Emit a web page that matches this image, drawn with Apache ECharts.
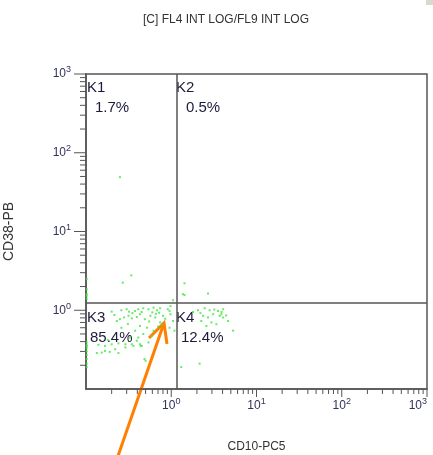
<!DOCTYPE html>
<html>
<head>
<meta charset="utf-8">
<script src="https://cdn.jsdelivr.net/npm/echarts@6/dist/echarts.min.js"></script>
<style>
  html, body { margin: 0; padding: 0; background: #fff; }
  #chart { width: 433px; height: 455px; }
</style>
</head>
<body>
<div id="chart"></div>
<script>
// Events: CD10 (x) and CD38 (y) intensities, paired by index
const cd10 = [
  0.26, 0.30, 0.32, 0.377, 0.41, 0.47, 0.54, 0.62, 0.68, 0.74,
  0.23, 0.25, 0.28, 0.315, 0.345, 0.395, 0.43, 0.49, 0.57, 0.65,
  0.74, 0.43, 0.377, 0.47, 0.52, 0.41, 0.395, 0.345, 0.29, 0.24,
  0.20, 0.167, 0.14, 0.45, 0.54, 0.59, 0.78, 0.134, 0.153, 0.167,
  0.19, 0.22, 0.24, 0.29, 0.36, 0.43, 0.50, 0.485, 0.44, 0.91,
  0.98, 1.05, 0.955, 1.09, 0.98, 0.955, 2.06, 2.47, 2.82, 3.1,
  3.54, 4.06, 2.36, 2.70, 3.70, 4.06, 2.25, 2.96, 3.38, 2.58,
  3.87, 4.64, 5.32, 1.31, 2.15, 1.05, 1.43, 1.37, 2.70, 1.43,
  0.27, 0.34, 0.25,
  0.102, 0.102, 0.102, 0.102, 0.102, 0.102, 0.102, 0.102, 0.102, 0.102,
  0.102, 0.102, 0.102, 0.102,
  0.20, 0.215, 0.35, 0.45, 0.60, 0.66, 0.72, 0.31, 0.26, 0.55,
  0.62, 0.70, 0.80, 0.85, 0.33, 0.18, 1.8, 3.2, 2.2, 3.9, 4.4
];
const cd38 = [
  1.0, 1.03, 0.96, 0.98, 1.03, 1.06, 1.03, 1.08, 1.0, 1.06,
  0.73, 0.77, 0.81, 0.85, 0.79, 0.82, 0.89, 0.77, 0.85, 0.81,
  0.70, 0.63, 0.55, 0.50, 0.60, 0.45, 0.41, 0.37, 0.37, 0.38,
  0.37, 0.353, 0.364, 0.353, 0.39, 0.47, 0.665, 0.286, 0.29, 0.305,
  0.296, 0.32, 0.286, 0.337, 0.353, 0.37, 0.228, 0.24, 0.353, 1.03,
  0.89, 0.73, 0.60, 0.55, 1.13, 0.98, 1.0, 1.06, 1.0, 0.89,
  0.98, 1.03, 0.85, 0.81, 0.85, 0.81, 0.73, 0.70, 0.665, 0.63,
  0.89, 0.73, 0.55, 0.19, 0.21, 1.34, 1.56, 1.60, 1.63, 2.20,
  2.24, 2.77, 49,
  1.6, 1.52, 1.4, 2.5, 1.85, 0.39, 0.36, 0.33, 0.30, 0.27,
  0.24, 0.21, 0.19, 0.35,
  0.96, 0.87, 0.92, 0.95, 0.94, 0.90, 0.93, 0.67, 0.60, 0.72,
  0.55, 0.62, 0.85, 0.78, 0.45, 0.42, 0.95, 1.02, 0.92, 0.95, 0.86
];

// Quadrant gates
const cd10Gate = 1.17;
const cd38Gate = 1.25;

// Quadrant names and their event percentages
const quadNames = ['K1', 'K2', 'K3', 'K4'];
const quadPct = ['1.7%', '0.5%', '85.4%', '12.4%'];

// Axis range and tick positions (log decades)
const axisMin = 0.1, axisMax = 1000;
const majorTicks = [1, 10, 100, 1000];
const minorTicks = [
  0.2, 0.3, 0.4, 0.5, 0.6, 0.7, 0.8, 0.9,
  2, 3, 4, 5, 6, 7, 8, 9,
  20, 30, 40, 50, 60, 70, 80, 90,
  200, 300, 400, 500, 600, 700, 800, 900
];

const events = cd10.map((v, i) => [v, cd38[i]]);
const tickColor = '#555';
const labelColor = '#33335a';
const font = 'Liberation Sans, Arial';

function supLabel(v) {
  const e = Math.round(Math.log10(v));
  return '{b|10}{s|' + e + '}';
}
const richSup = {
  b: { fontSize: 12, color: labelColor, fontFamily: font },
  s: { fontSize: 9, color: labelColor, fontFamily: font, padding: [0, 0, 8, 0] }
};

function tickSeries(values, isX, len) {
  return {
    type: 'custom',
    silent: true,
    clip: false,
    data: values.map(v => isX ? [v, axisMin] : [axisMin, v]),
    renderItem: function (params, api) {
      const p = api.coord([api.value(0), api.value(1)]);
      const shape = isX
        ? { x1: p[0], y1: p[1], x2: p[0], y2: p[1] + len }
        : { x1: p[0] - len, y1: p[1], x2: p[0], y2: p[1] };
      return { type: 'line', shape: shape, style: { stroke: tickColor, lineWidth: 1 } };
    }
  };
}

const chart = echarts.init(document.getElementById('chart'), null, { renderer: 'canvas' });

const option = {
  animation: false,
  backgroundColor: '#fff',
  title: {
    text: '[C] FL4 INT LOG/FL9 INT LOG',
    left: 138, top: 9,
    textStyle: { fontSize: 12, fontWeight: 'normal', color: '#333', fontFamily: font }
  },
  grid: {
    left: 86, top: 74, right: 6, bottom: 66,
    outerBoundsMode: 'none', containLabel: false,
    show: true, borderColor: '#555', borderWidth: 1.5, backgroundColor: 'transparent'
  },
  xAxis: {
    type: 'log', logBase: 10, min: axisMin, max: axisMax, splitNumber: 4,
    name: 'CD10-PC5', nameLocation: 'middle', nameGap: 52,
    nameTextStyle: { fontSize: 12, color: '#333', fontFamily: font },
    axisLine: { show: true, lineStyle: { color: '#555', width: 1.5 } },
    axisTick: { show: false },
    splitLine: { show: false },
    axisLabel: { margin: 8, showMinLabel: false, alignMaxLabel: 'right', formatter: supLabel, rich: richSup }
  },
  yAxis: {
    type: 'log', logBase: 10, min: axisMin, max: axisMax, splitNumber: 4,
    name: 'CD38-PB', nameLocation: 'middle', nameGap: 70,
    nameTextStyle: { fontSize: 14, color: '#333', fontFamily: font },
    axisLine: { show: true, lineStyle: { color: '#555', width: 1.5 } },
    axisTick: { show: false },
    splitLine: { show: false },
    axisLabel: { margin: 15, showMinLabel: false, formatter: supLabel, rich: richSup }
  },
  series: [
    {
      type: 'scatter',
      data: events,
      symbol: 'rect',
      symbolSize: 2,
      itemStyle: { color: '#3ee63e' },
      silent: true,
      markLine: {
        silent: true,
        symbol: 'none',
        label: { show: false },
        lineStyle: { color: '#555', width: 1.5, type: 'solid' },
        data: [{ xAxis: cd10Gate }, { yAxis: cd38Gate }]
      }
    },
    tickSeries(majorTicks, true, 8),
    tickSeries(minorTicks, true, 5),
    tickSeries(majorTicks, false, 12),
    tickSeries(minorTicks, false, 6)
  ],
  graphic: [
    { type: 'text', left: 87, top: 80, style: { text: quadNames[0], fontSize: 15, fill: '#1c1c3a', fontFamily: font } },
    { type: 'text', left: 95, top: 100, style: { text: quadPct[0], fontSize: 15, fill: '#1c1c3a', fontFamily: font } },
    { type: 'text', left: 176, top: 80, style: { text: quadNames[1], fontSize: 15, fill: '#1c1c3a', fontFamily: font } },
    { type: 'text', left: 186, top: 100, style: { text: quadPct[1], fontSize: 15, fill: '#1c1c3a', fontFamily: font } },
    { type: 'text', left: 87, top: 310, style: { text: quadNames[2], fontSize: 15, fill: '#1c1c3a', fontFamily: font } },
    { type: 'text', left: 90, top: 330, style: { text: quadPct[2], fontSize: 15, fill: '#1c1c3a', fontFamily: font } },
    { type: 'text', left: 176, top: 310, style: { text: quadNames[3], fontSize: 15, fill: '#1c1c3a', fontFamily: font } },
    { type: 'text', left: 181, top: 330, style: { text: quadPct[3], fontSize: 15, fill: '#1c1c3a', fontFamily: font } },
    // pointer arrow into the CD10-/CD38- population
    {
      type: 'group', z: 100,
      children: [
        { type: 'line', shape: { x1: 118, y1: 456, x2: 164, y2: 323 }, style: { stroke: '#ff8000', lineWidth: 3 } },
        { type: 'polyline', shape: { points: [[149, 338], [164, 323], [167, 344]] }, style: { stroke: '#ff8000', lineWidth: 3, fill: null } }
      ]
    },
    { type: 'rect', shape: { x: 426, y: 0, width: 7, height: 5 }, style: { fill: '#dcd8cc' } }
  ]
};

chart.setOption(option);
</script>
</body>
</html>
